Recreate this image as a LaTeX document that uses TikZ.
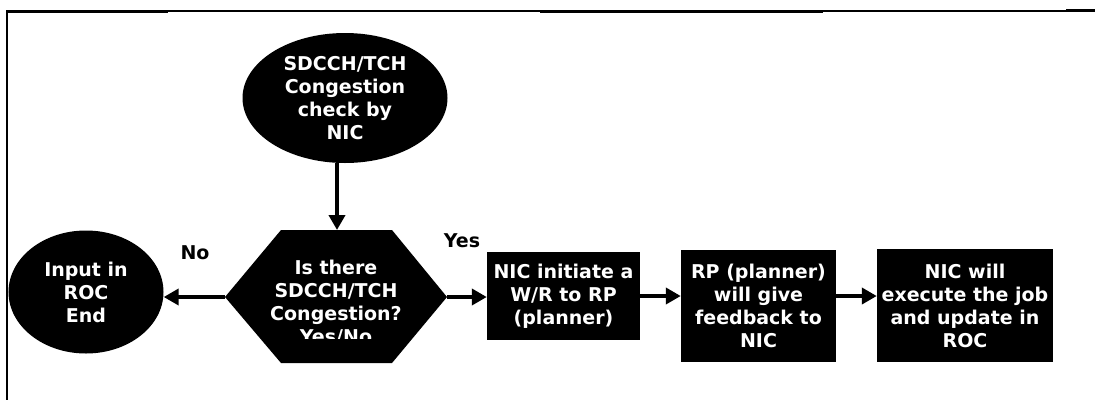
\documentclass[tikz,border=0pt]{standalone}
\usepackage{fontspec}
\setmainfont{DejaVu Sans}
\usetikzlibrary{arrows.meta,shapes.geometric}
\begin{document}
\begin{tikzpicture}[x=1bp,y=-1bp,
  every node/.style={font=\bfseries\fontsize{19bp}{23bp}\selectfont},
  blk/.style={fill=black,text=white,align=center,inner sep=0pt},
  oval/.style={blk,ellipse},
  stepbox/.style={blk,rectangle},
  flow/.style={line width=4.5bp,-{Triangle[length=15bp,width=16bp]}},
  lbl/.style={text=black,inner sep=0pt},
  rule/.style={line width=1.3bp},
  heavyrule/.style={line width=3bp}]
\useasboundingbox (0,0) rectangle (1095,400);
% frame lines
\draw[rule] (7,11) -- (1095,11);
\draw[heavyrule] (6,11) -- (168,11);
\draw[heavyrule] (540,11) -- (823,11);
\draw[heavyrule] (1066,10) -- (1095,10);
\draw[line width=2bp] (7,10) -- (7,400);

% start
\node[oval,minimum width=205bp,minimum height=130bp] (check) at (345,98)
  {SDCCH/TCH\\Congestion\\check by\\NIC};

% decision hexagon
\coordinate (hexW) at (225,297);
\coordinate (hexE) at (447,297);
\coordinate (hexN) at (337,230);
\fill (hexW) -- (281,230) -- (392,230) -- (hexE) -- (392,363) -- (281,363) -- cycle;
\begin{scope}
  \clip (225,229) rectangle (447,338);
  \node[blk,fill=none] (ask) at (336,303) {Is there\\SDCCH/TCH\\Congestion?\\Yes/No};
\end{scope}

% end
\node[oval,minimum width=155bp,minimum height=123bp] (endn) at (86,292)
  {Input in\\ROC\\End};

% process steps
\node[stepbox,minimum width=153bp,minimum height=88bp] (wr) at (563.5,296)
  {NIC initiate a\\W/R to RP\\(planner)};
\node[stepbox,minimum width=155bp,minimum height=112bp] (fb) at (758.5,306)
  {RP (planner)\\will give\\feedback to\\NIC};
\node[stepbox,minimum width=176bp,minimum height=113bp] (ex) at (965,305.5)
  {NIC will\\execute the job\\and update in\\ROC};

% connectors
\draw[flow] (hexN |- check.south) -- (hexN);
\draw[flow] (hexW) -- (hexW -| endn.east);
\draw[flow] (hexE) -- (hexE -| wr.west);
\draw[flow] (wr.east) -- (wr.east -| fb.west);
\draw[flow] (fb.east |- wr.east) -- (wr.east -| ex.west);

% branch labels
\node[lbl] (no) at (195,253) {No};
\node[lbl] (yes) at (462,241) {Yes};
\end{tikzpicture}
\end{document}
